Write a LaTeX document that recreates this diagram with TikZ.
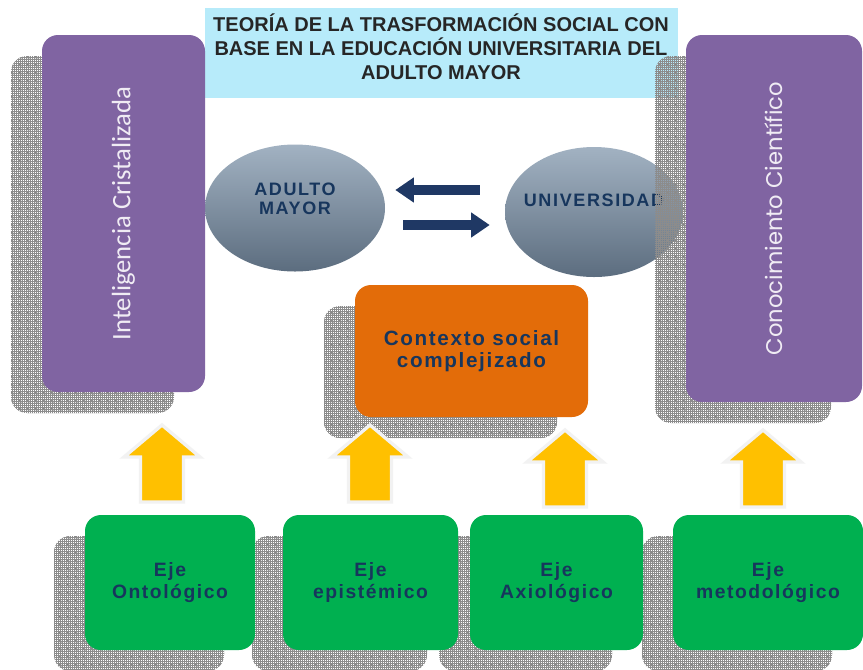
\documentclass[tikz,border=0pt]{standalone}
\usepackage{fontspec}
\setmainfont{Liberation Sans}
\newfontfamily\carlitofont{Carlito}
\newfontfamily\poppinsfont{Poppins}
\usepackage{tikz}
\usetikzlibrary{calc, positioning, shapes.geometric, arrows.meta, shadows, patterns}

\definecolor{boxpurple}{RGB}{128,100,162}
\definecolor{titlecyan}{RGB}{183,235,250}
\definecolor{ctxorange}{RGB}{227,108,9}
\definecolor{ejegreen}{RGB}{0,176,80}
\definecolor{upyellow}{RGB}{255,192,0}
\definecolor{navytext}{RGB}{23,54,93}
\definecolor{navyarrow}{RGB}{31,56,100}

\pgfdeclarepatternformonly{shadowgrid}{\pgfpoint{-0.2pt}{-0.2pt}}{\pgfpoint{6.2pt}{6.2pt}}{\pgfpoint{6pt}{6pt}}{%
  \pgfsetlinewidth{0.3pt}%
  \foreach \k in {0,1.5,3,4.5}{%
    \pgfpathmoveto{\pgfpoint{0pt}{\k pt}}\pgfpathlineto{\pgfpoint{6pt}{\k pt}}%
    \pgfpathmoveto{\pgfpoint{\k pt}{0pt}}\pgfpathlineto{\pgfpoint{\k pt}{6pt}}%
  }%
  \pgfusepath{stroke}%
  \pgfsetlinewidth{0.6pt}%
  \pgfpathmoveto{\pgfpoint{1.9pt}{1.9pt}}\pgfpathlineto{\pgfpoint{4.1pt}{4.1pt}}%
  \pgfpathmoveto{\pgfpoint{1.9pt}{4.1pt}}\pgfpathlineto{\pgfpoint{4.1pt}{1.9pt}}%
  \pgfusepath{stroke}%
}

\tikzset{
  hatchshadow/.style={general shadow={shadow xshift=-23.25pt, shadow yshift=-15.75pt, pattern=shadowgrid, pattern color=black!45}},
  panel/.style={rectangle, rounded corners=12pt, inner sep=2pt, align=center, hatchshadow},
  purplepanel/.style={panel, fill=boxpurple, minimum height=#1, text=white!88!boxpurple},
  ejebox/.style={panel, fill=ejegreen, minimum height=101.25pt, minimum width=#1,
    text=navytext, font=\fontsize{14.5}{16.5}\selectfont\bfseries\addfontfeatures{LetterSpace=8}},
  actor/.style={ellipse, inner sep=0pt, top color={rgb,255:red,162;green,178;blue,194},
    bottom color={rgb,255:red,92;green,109;blue,127}},
  actortxt/.style={text=navytext, align=center, font=\fontsize{13.5}{14}\selectfont\bfseries\addfontfeatures{LetterSpace=9}},
  swaparrow/.style={navyarrow, line width=7.5pt, -{Triangle[length=14pt, width=18pt]}},
  blockup/.pic={
    \draw[fill=upyellow, draw=gray!10, line width=2.5pt, line join=miter]
      (0,0) -- (38,32) -- (21.5,32) -- (21.5,77) -- (-21.5,77) -- (-21.5,32) -- (-38,32) -- cycle;
  }
}

\begin{document}
\begin{tikzpicture}[x=0.75pt, y=-0.75pt]
  \useasboundingbox[fill=white] (0,0) rectangle (863,669);

  \node[fill=titlecyan, minimum width=354.75pt, minimum height=67.5pt,
    label={[yshift=5pt, align=center, text=black!85, font=\fontsize{15}{18}\selectfont\bfseries]center:TEORÍA DE LA TRASFORMACIÓN SOCIAL CON\\BASE EN LA EDUCACIÓN UNIVERSITARIA DEL\\ADULTO MAYOR}] (title) at (441,53) {};

  \node[actor, minimum width=135pt, minimum height=95.25pt,
    label={[actortxt, yshift=6.75pt]center:ADULTO\\MAYOR}] (am) at (295,208) {};
  \node[actor, minimum width=133.5pt, minimum height=97.5pt,
    label={[actortxt, yshift=9pt]center:UNIVERSIDAD}] (un) at (594,212) {};

  \coordinate (l1) at ($(un.west)+(-25,-22)$);
  \coordinate (l2) at ($(am.east)+(10,-18)$);
  \coordinate (r1) at ($(am.east)+(18,17)$);
  \coordinate (r2) at ($(un.west)+(-15,13)$);
  \draw[swaparrow] (l1) -- (l2);
  \draw[swaparrow] (r1) -- (r2);

  \node[purplepanel=267.75pt, minimum width=122.25pt, font=\carlitofont\fontsize{20}{22}\selectfont] (ic) at (123.5,213.5) {\rotatebox{90}{Inteligencia Cristalizada}};
  \node[purplepanel=275.25pt, minimum width=132pt, font=\poppinsfont\fontsize{17}{19}\selectfont] (cc) at (774,218.5) {\rotatebox{90}{Conocimiento Científico}};

  \node[panel, fill=ctxorange, minimum width=174.75pt, minimum height=99pt, text=navytext,
    font=\fontsize{15.5}{16}\selectfont\bfseries\addfontfeatures{LetterSpace=8}] (ctx) at (471.5,351) {Contexto social\\complejizado};

  \node[ejebox=142.5pt] (e4) at (768,582.5) {Eje\\metodológico};
  \node[ejebox=129.75pt] (e3) at (556.5,582.5) {Eje\\Axiológico};
  \node[ejebox=131.25pt] (e2) at (370.5,582.5) {Eje\\epistémico};
  \node[ejebox=127.5pt] (e1) at (170,582.5) {Eje\\Ontológico};

  \pic (y1) at (162,425) {blockup};
  \pic (y2) at (370,425) {blockup};
  \pic (y3) at (565,430) {blockup};
  \pic (y4) at (763,430) {blockup};
\end{tikzpicture}
\end{document}
